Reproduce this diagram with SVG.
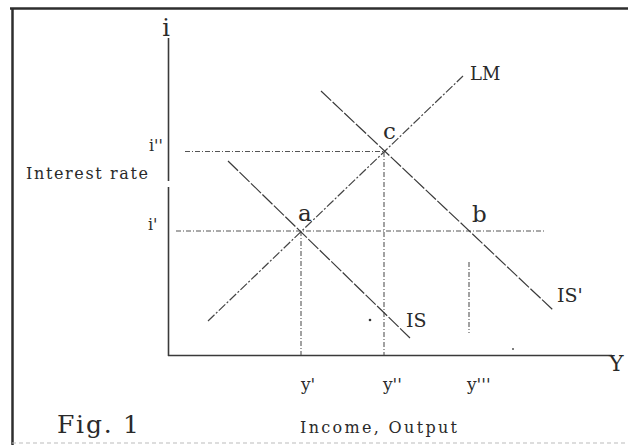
<svg xmlns="http://www.w3.org/2000/svg" width="628" height="445" viewBox="0 0 628 445">
<style>
text{font-family:"DejaVu Serif","Liberation Serif",serif;fill:#2a2a2a}
.frame{stroke:#2e2e2e;stroke-width:2.5;fill:none}
.axis{stroke:#3a3a3a;stroke-width:1.6;fill:none}
.guide{stroke:#555;stroke-width:1.1;stroke-dasharray:5,2,1,2;fill:none}
.curve{stroke:#444;stroke-width:1.2;stroke-dasharray:9,2,2,2;fill:none}
.is{stroke:#3a3a3a;stroke-width:1.2;stroke-dasharray:14,2;fill:none}
</style>
<rect width="628" height="445" fill="#fff"/>
<g id="frame">
<line class="frame" x1="10" y1="8.5" x2="628" y2="8.5"/>
<line class="frame" x1="12.5" y1="8" x2="12.5" y2="445"/>
<line x1="12" y1="443" x2="628" y2="443" stroke="#bbb" stroke-width="1" stroke-dasharray="4,3"/>
</g>
<g id="axes">
<line class="axis" x1="168.5" y1="38" x2="168.5" y2="181"/>
<line class="axis" x1="168.5" y1="187" x2="168.5" y2="356"/>
<line class="axis" x1="168" y1="355.5" x2="612" y2="355.5"/>
</g>
<g id="connectors">
<line class="guide" x1="185" y1="151.5" x2="384" y2="151.5"/>
<line class="guide" x1="176" y1="231" x2="546" y2="231"/>
<line class="guide" x1="301" y1="231" x2="301" y2="355"/>
<line class="guide" x1="384" y1="152" x2="384" y2="355"/>
<line class="guide" x1="469" y1="262" x2="469" y2="333"/>
<line id="LM" class="curve" x1="208" y1="321" x2="463" y2="76"/>
<line id="IS" class="is" x1="228" y1="161" x2="410" y2="338"/>
<line id="ISp" class="is" x1="321" y1="91" x2="553" y2="310"/>
<circle cx="370" cy="320" r="1.3" fill="#333"/>
<circle cx="513" cy="349" r="1" fill="#555"/>
</g>
<g id="point-a"><text x="298" y="221" font-size="23">a</text></g>
<g id="point-b"><text x="472" y="222" font-size="23">b</text></g>
<g id="point-c"><text x="383" y="139" font-size="23">c</text></g>
<g id="labels">
<text x="166" y="36" font-size="24" text-anchor="middle">i</text>
<text x="149" y="151" font-size="16">i''</text>
<text x="148" y="230" font-size="16">i'</text>
<text x="26" y="179" font-size="16" textLength="122" lengthAdjust="spacing">Interest rate</text>
<text x="470" y="80" font-size="18">LM</text>
<text x="406" y="327" font-size="19">IS</text>
<text x="557" y="302" font-size="19">IS'</text>
<text x="609" y="371" font-size="22">Y</text>
<text x="301" y="390" font-size="17">y'</text>
<text x="383" y="390" font-size="17">y''</text>
<text x="467" y="390" font-size="17">y'''</text>
<text x="57" y="433" font-size="25" textLength="82" lengthAdjust="spacing">Fig. 1</text>
<text x="300" y="433" font-size="16" textLength="157" lengthAdjust="spacing">Income, Output</text>
</g>
</svg>
